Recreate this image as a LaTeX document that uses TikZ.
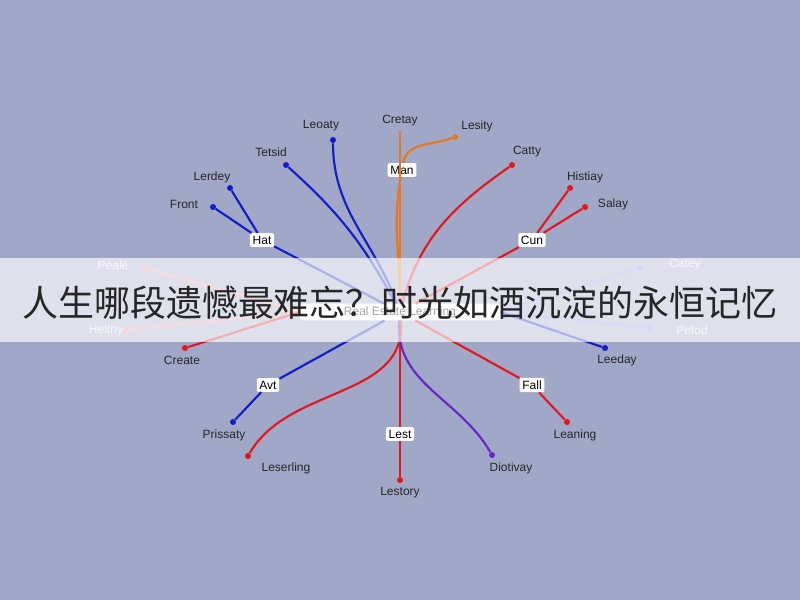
\documentclass[tikz,border=0pt]{standalone}
\usepackage{fontspec}
\setmainfont{Liberation Sans}
\newfontfamily\cjk{Noto Sans CJK SC}
\usetikzlibrary{positioning}
\definecolor{bgblue}{RGB}{161,167,199}
\definecolor{lblue}{RGB}{20,30,200}
\definecolor{lred}{RGB}{225,25,30}
\definecolor{lorange}{RGB}{230,120,30}
\definecolor{lpurple}{RGB}{100,40,200}
\tikzset{
  tag/.style={fill=white,rounded corners=1.5pt,inner sep=2pt,font=\small},
  word/.style={font=\small,text=black!85},
  pale/.style={font=\small,text=white!80!bgblue},
  leg/.style={line width=1.6pt},
  dot/.style={circle,fill,inner sep=1.6pt}
}
\begin{document}
\begin{tikzpicture}[x=0.75pt,y=-0.75pt]
    \fill[bgblue] (0,0) rectangle (800,600);
    \node[tag,minimum width=150pt] (c) at (400,312) {Real Estate Learning};
    % upper left, blue
    \node[tag] (hat) at (262,240) {Hat};
    \node[dot,lblue] (front) at (213,207) {};
    \node[dot,lblue] (lerdey) at (230,188) {};
    \node[dot,lblue] (tetsid) at (286,165) {};
    \node[dot,lblue] (leoaty) at (333,140) {};
    \draw[leg,lblue] (front) -- (hat) -- (c);
    \draw[leg,lblue] (lerdey) -- (hat);
    \draw[leg,lblue] (tetsid) to[bend left=10] (c);
    \draw[leg,lblue] (leoaty) to[out=-90,in=110] (c);
    % top, orange
    \node[tag] (man) at (402,170) {Man};
    \node[dot,lorange,inner sep=1pt] (cretay) at (400,133) {};
    \node[dot,lorange] (lesity) at (455,137) {};
    \draw[leg,lorange] (cretay) -- (c);
    \draw[leg,lorange] (lesity) to[out=200,in=80] (man) to[out=-100,in=90] (c);
    % upper right, red
    \node[tag] (cun) at (532,240) {Cun};
    \node[dot,lred] (catty) at (512,165) {};
    \node[dot,lred] (histiay) at (570,188) {};
    \node[dot,lred] (salay) at (585,207) {};
    \draw[leg,lred] (catty) to[out=215,in=75] (c);
    \draw[leg,lred] (histiay) -- (cun) -- (c);
    \draw[leg,lred] (salay) -- (cun);
    % sides
    \node[dot,lred!50!white] (peale) at (145,268) {};
    \node[dot,lred!50!white] (heltny) at (125,330) {};
    \node[dot,lred] (create) at (185,348) {};
    \draw[leg,lred!45!white] (peale) -- (c.west) (heltny) -- (c.west);
    \draw[leg,lred] (create) -- (c.west);
    \node[dot,lblue!50!white] (catey) at (640,268) {};
    \node[dot,lblue!50!white] (petod) at (650,328) {};
    \node[dot,lblue] (leeday) at (605,348) {};
    \draw[leg,lblue!45!white] (catey) -- (c.east) (petod) -- (c.east);
    \draw[leg,lblue] (leeday) -- (c.east);
    % lower
    \node[tag] (avt) at (268,385) {Avt};
    \node[tag] (lest) at (400,434) {Lest};
    \node[tag] (fall) at (532,385) {Fall};
    \node[dot,lblue] (prissaty) at (233,422) {};
    \node[dot,lred] (leserling) at (248,456) {};
    \node[dot,lred] (lestory) at (400,480) {};
    \node[dot,lpurple] (diotivay) at (492,455) {};
    \node[dot,lred] (leaning) at (567,422) {};
    \draw[leg,lblue] (c) -- (avt) -- (prissaty);
    \draw[leg,lred] (c) to[out=-85,in=60] (leserling);
    \draw[leg,lred] (c) -- (lest) -- (lestory);
    \draw[leg,lpurple] (c) to[out=-95,in=120] (diotivay);
    \draw[leg,lred] (c) -- (fall) -- (leaning);
    % words
    \node[word] at (321,126) {Leoaty};
    \node[word] at (400,121) {Cretay};
    \node[word] at (477,126) {Lesity};
    \node[word] at (271,152) {Tetsid};
    \node[word] at (527,152) {Catty};
    \node[word] at (212,177) {Lerdey};
    \node[word] at (585,177) {Histiay};
    \node[word] at (184,204) {Front};
    \node[word] at (613,204) {Salay};
    \node[pale] at (113,265) {Peale};
    \node[pale] at (685,265) {Catey};
    \node[pale] at (106,330) {Heltny};
    \node[pale] at (692,330) {Petod};
    \node[word] at (182,360) {Create};
    \node[word] at (617,360) {Leeday};
    \node[word] at (224,435) {Prissaty};
    \node[word] at (575,435) {Leaning};
    \node[word] at (286,468) {Leserling};
    \node[word] at (511,468) {Diotivay};
    \node[word] at (400,493) {Lestory};
    % banner
    \fill[white,opacity=0.65] (0,258) rectangle (800,342);
    \node[font=\cjk\fontsize{27}{27}\selectfont,text=black!85] (title) at (400,303) {人生哪段遗憾最难忘？时光如酒沉淀的永恒记忆};
\end{tikzpicture}
\end{document}
